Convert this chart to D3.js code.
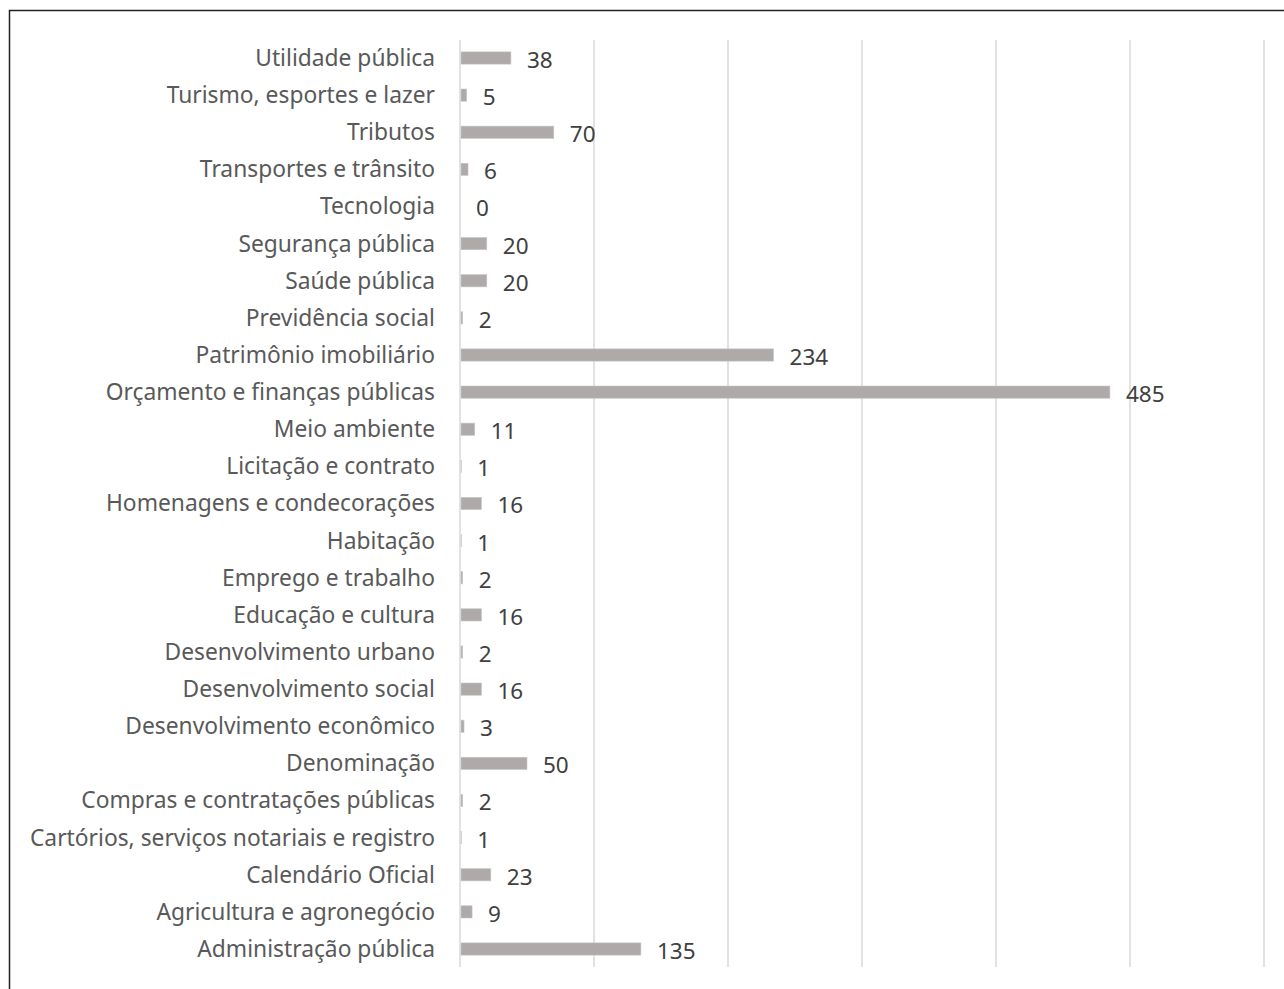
<!DOCTYPE html>
<html><head><meta charset="utf-8">
<script src="https://cdn.jsdelivr.net/npm/d3@7"></script>
<style>body{margin:0;background:#fff}svg{display:block}</style>
</head><body><svg id="c" width="1284" height="989"></svg>
<script>
const categories = ["Utilidade pública","Turismo, esportes e lazer","Tributos","Transportes e trânsito","Tecnologia","Segurança pública","Saúde pública","Previdência social","Patrimônio imobiliário","Orçamento e finanças públicas","Meio ambiente","Licitação e contrato","Homenagens e condecorações","Habitação","Emprego e trabalho","Educação e cultura","Desenvolvimento urbano","Desenvolvimento social","Desenvolvimento econômico","Denominação","Compras e contratações públicas","Cartórios, serviços notariais e registro","Calendário Oficial","Agricultura e agronegócio","Administração pública"];
const values = [38,5,70,6,0,20,20,2,234,485,11,1,16,1,2,16,2,16,3,50,2,1,23,9,135];
const xTicks = [0,100,200,300,400,500,600];

const svg = d3.select("#c");
svg.append("rect").attr("x",9.5).attr("y",10.5).attr("width",1290).attr("height",1000)
  .attr("fill","#fff").attr("stroke","#222").attr("stroke-width",1.5);

const x = d3.scaleLinear().domain([0,600]).range([460,1264]);
const step = 37.125;
const y = d3.scaleBand().domain(categories).range([58-step/2, 949+step/2]).paddingInner(0.67).paddingOuter(0.335);

const g = svg.append("g");
g.selectAll("line.grid").data(xTicks).join("line").attr("class","grid")
  .attr("x1",d=>x(d)).attr("x2",d=>x(d)).attr("y1",40).attr("y2",967)
  .attr("stroke","#d9d9d9").attr("stroke-width",1.5);

g.selectAll("rect.bar").data(values).join("rect").attr("class","bar")
  .attr("x",x(0)+1).attr("y",(d,i)=>y(categories[i]))
  .attr("width",d=>Math.max(0,x(d)-x(0)-1)).attr("height",y.bandwidth())
  .attr("fill","#aeaaaa").attr("stroke","#c9c6c6").attr("stroke-width",0.6);

const font = "'Noto Sans', 'Open Sans', sans-serif";
g.selectAll("text.cat").data(categories).join("text").attr("class","cat")
  .attr("x",435).attr("y",d=>y(d)+y.bandwidth()/2).attr("dy","0.35em")
  .attr("text-anchor","end").attr("font-family",font).attr("font-size",22.8).attr("fill","#595959")
  .text(d=>d);

g.selectAll("text.val").data(values).join("text").attr("class","val")
  .attr("x",d=>x(d)+16).attr("y",(d,i)=>y(categories[i])+y.bandwidth()/2+2).attr("dy","0.35em")
  .attr("font-family",font).attr("font-size",22.5).attr("fill","#404040")
  .text(d=>d);
</script></body></html>
